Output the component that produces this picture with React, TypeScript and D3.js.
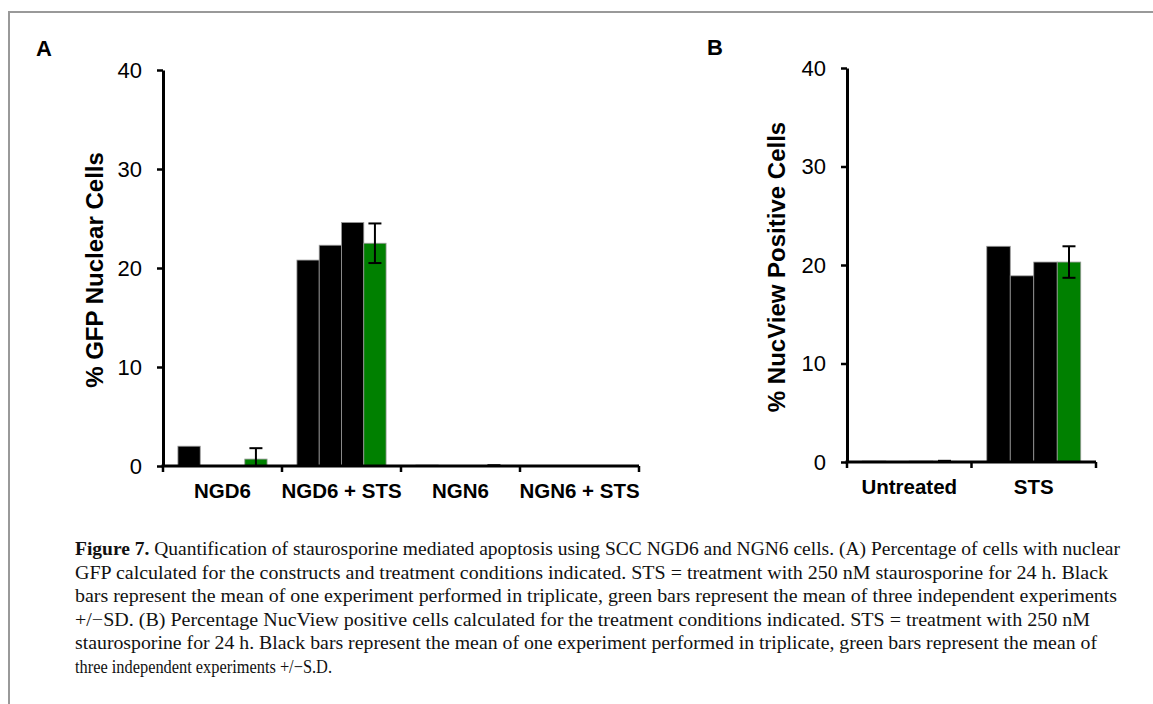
import React, { useEffect, useRef } from 'react';
import * as d3 from 'd3';

// Panel A
const catsA = ['NGD6', 'NGD6 + STS', 'NGN6', 'NGN6 + STS'];
const exp1A = [2.0, 20.8, 0.1, 0];
const exp2A = [0, 22.3, 0, 0];
const exp3A = [0, 24.6, 0, 0];
const meanA = [0.7, 22.5, 0.03, 0];
const sdA = [1.1, 2.0, 0.05, 0];

// Panel B
const catsB = ['Untreated', 'STS'];
const exp1B = [0.1, 21.9];
const exp2B = [0, 18.9];
const exp3B = [0.1, 20.3];
const meanB = [0.07, 20.3];
const sdB = [0.05, 1.6];

const yTicks = [0, 10, 20, 30, 40];
const seriesNames = ['exp1', 'exp2', 'exp3', 'mean'];

const captionLines = [
  ['Figure 7.', ' Quantification of staurosporine mediated apoptosis using SCC NGD6 and NGN6 cells. (A) Percentage of cells with nuclear'],
  ['', 'GFP calculated for the constructs and treatment conditions indicated. STS = treatment with 250 nM staurosporine for 24 h. Black'],
  ['', 'bars represent the mean of one experiment performed in triplicate, green bars represent the mean of three independent experiments'],
  ['', '+/\u2212SD. (B) Percentage NucView positive cells calculated for the treatment conditions indicated. STS = treatment with 250 nM'],
  ['', 'staurosporine for 24 h. Black bars represent the mean of one experiment performed in triplicate, green bars represent the mean of'],
  ['', 'three independent experiments +/\u2212S.D.'],
];
const captionWidths = [1045, 1033, 1042, 1015, 1022, 257];

const App = () => {
  const ref = useRef(null);

  useEffect(() => {
    const svg = d3.select(ref.current);
    svg.selectAll('*').remove();

    // cadre gris
    svg.append('path')
      .attr('d', 'M9,704 V12 H1153')
      .attr('fill', 'none')
      .attr('stroke', '#999')
      .attr('stroke-width', 2);

    const drawPanel = (opts) => {
      const { cats, series, mean, sd, x0, x1, y0, y1, letter, letterX, letterY, yLabel, yLabelX, pad } = opts;
      const g = svg.append('g');

      const x = d3.scaleBand().domain(cats).range([x0, x1]).paddingInner(0).paddingOuter(0);
      const xs = d3.scaleBand().domain(seriesNames).range([0, x.bandwidth()]).paddingInner(0).paddingOuter(pad);
      const y = d3.scaleLinear().domain([0, 40]).range([y0, y1]);

      // barres
      cats.forEach((c, i) => {
        seriesNames.forEach((s, j) => {
          const v = series[j][i];
          if (v <= 0) return;
          g.append('rect')
            .attr('x', x(c) + xs(s))
            .attr('width', xs.bandwidth())
            .attr('y', y(v))
            .attr('height', y(0) - y(v))
            .attr('fill', s === 'mean' ? '#008000' : '#000')
            .attr('stroke', '#999')
            .attr('stroke-width', 0.8);
        });
      });

      // barres d'erreur
      cats.forEach((c, i) => {
        if (sd[i] <= 0) return;
        const cx = x(c) + xs('mean') + xs.bandwidth() / 2;
        const top = y(mean[i] + sd[i]);
        const lo = mean[i] - sd[i];
        const bot = y(Math.max(lo, 0));
        g.append('line').attr('x1', cx).attr('x2', cx).attr('y1', top).attr('y2', bot)
          .attr('stroke', '#000').attr('stroke-width', 2);
        g.append('line').attr('x1', cx - 6.5).attr('x2', cx + 6.5).attr('y1', top).attr('y2', top)
          .attr('stroke', '#000').attr('stroke-width', 2);
        if (lo >= 0) {
          g.append('line').attr('x1', cx - 6.5).attr('x2', cx + 6.5).attr('y1', bot).attr('y2', bot)
            .attr('stroke', '#000').attr('stroke-width', 2);
        }
      });

      // axe Y
      const ya = g.append('g')
        .attr('transform', `translate(${x0},0)`)
        .call(d3.axisLeft(y).tickValues(yTicks).tickSize(6).tickSizeOuter(0).tickPadding(15));
      ya.select('.domain').attr('stroke-width', 3);
      ya.selectAll('.tick line').attr('stroke-width', 2.5);
      ya.selectAll('.tick text')
        .style('font-family', 'Liberation Sans, Arial, sans-serif')
        .style('font-size', '22px')
        .attr('fill', '#000');

      // axe X
      g.append('line').attr('x1', x0 - 1.5).attr('x2', x1).attr('y1', y0).attr('y2', y0)
        .attr('stroke', '#000').attr('stroke-width', 3);
      const bounds = cats.map(c => x(c)).concat([x(cats[cats.length - 1]) + x.bandwidth()]);
      bounds.forEach(b => {
        g.append('line').attr('x1', b).attr('x2', b).attr('y1', y0).attr('y2', y0 + 6)
          .attr('stroke', '#000').attr('stroke-width', 2.5);
      });
      cats.forEach(c => {
        g.append('text')
          .attr('x', x(c) + x.bandwidth() / 2)
          .attr('y', y0 + 32)
          .attr('text-anchor', 'middle')
          .style('font-family', 'Liberation Sans, Arial, sans-serif')
          .style('font-size', '20.5px')
          .style('font-weight', 'bold')
          .text(c);
      });

      // titre Y
      g.append('text')
        .attr('transform', `translate(${yLabelX},${(y0 + y1) / 2 + 2}) rotate(-90)`)
        .attr('text-anchor', 'middle')
        .style('font-family', 'Liberation Sans, Arial, sans-serif')
        .style('font-size', '24px')
        .style('font-weight', 'bold')
        .text(yLabel);

      g.append('text')
        .attr('x', letterX)
        .attr('y', letterY)
        .style('font-family', 'Liberation Sans, Arial, sans-serif')
        .style('font-size', '22px')
        .style('font-weight', 'bold')
        .text(letter);
    };

    drawPanel({
      cats: catsA, series: [exp1A, exp2A, exp3A, meanA], mean: meanA, sd: sdA,
      x0: 163, x1: 639, y0: 466, y1: 70, pad: 0.67,
      letter: 'A', letterX: 36, letterY: 56,
      yLabel: '% GFP Nuclear Cells', yLabelX: 103,
    });

    drawPanel({
      cats: catsB, series: [exp1B, exp2B, exp3B, meanB], mean: meanB, sd: sdB,
      x0: 847, x1: 1096, y0: 462, y1: 68, pad: 0.65,
      letter: 'B', letterX: 707, letterY: 55,
      yLabel: '% NucView Positive Cells', yLabelX: 785,
    });

    // légende de la figure
    captionLines.forEach((line, i) => {
      const t = svg.append('text')
        .attr('x', 75)
        .attr('y', 555 + i * 23.6)
        .style('font-family', 'Liberation Serif, Times New Roman, serif')
        .style('font-size', '18.5px')
        .attr('fill', '#111');
      if (captionWidths[i] > 0) {
        t.attr('textLength', captionWidths[i]).attr('lengthAdjust', 'spacingAndGlyphs');
      }
      if (line[0]) t.append('tspan').style('font-weight', 'bold').text(line[0]);
      t.append('tspan').text(line[1]);
    });
  }, []);

  return (
    <svg
      ref={ref}
      width={1153}
      height={704}
      style={{ position: 'absolute', left: 0, top: 0, background: '#fff' }}
    />
  );
};

export default App;
